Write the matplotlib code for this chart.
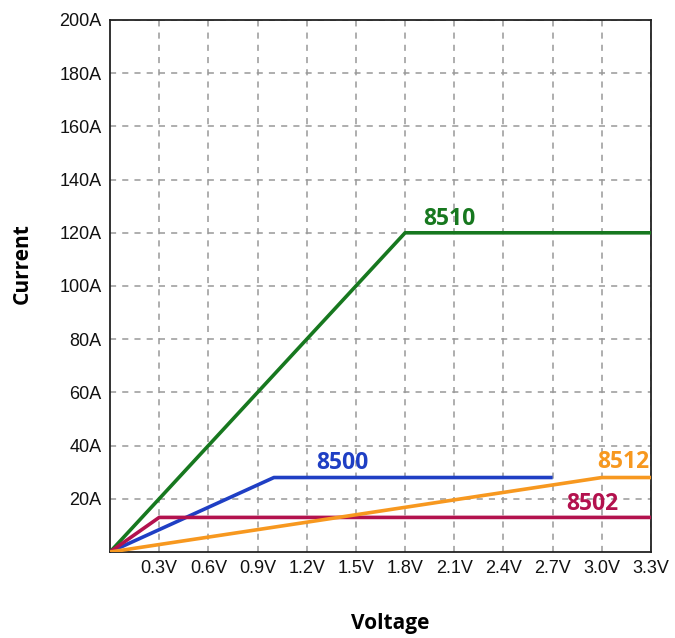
import matplotlib
matplotlib.use('Agg')
import matplotlib.pyplot as plt

# current-voltage envelopes of the models (V, A)
v_8510 = [0.0, 1.8, 3.3]
a_8510 = [0, 120, 120]
v_8500 = [0.0, 1.0, 2.7]
a_8500 = [0, 28, 28]
v_8502 = [0.0, 0.3, 3.3]
a_8502 = [0, 13, 13]
v_8512 = [0.0, 3.0, 3.3]
a_8512 = [0, 28, 28]

x_ticks = [0.3, 0.6, 0.9, 1.2, 1.5, 1.8, 2.1, 2.4, 2.7, 3.0, 3.3]
x_labels = ['0.3V', '0.6V', '0.9V', '1.2V', '1.5V', '1.8V', '2.1V', '2.4V', '2.7V', '3.0V', '3.3V']
y_ticks = [20, 40, 60, 80, 100, 120, 140, 160, 180, 200]
y_labels = ['20A', '40A', '60A', '80A', '100A', '120A', '140A', '160A', '180A', '200A']

green = '#17781f'
blue = '#1f3fc4'
red = '#b3124e'
orange = '#f7981f'

fig = plt.figure(figsize=(6.75, 6.38), dpi=100)
ax = fig.add_axes([110 / 675, 1 - 552 / 638, 541 / 675, 532 / 638])

ax.plot(v_8510, a_8510, color=green, lw=2.6, solid_capstyle='butt', zorder=3)
ax.plot(v_8500, a_8500, color=blue, lw=2.6, solid_capstyle='butt', zorder=3)
ax.plot(v_8502, a_8502, color=red, lw=2.6, solid_capstyle='butt', zorder=3)
ax.plot(v_8512, a_8512, color=orange, lw=2.6, solid_capstyle='butt', zorder=3)

lab = dict(family='Open Sans', fontweight='bold', fontsize=16.5)
ax.text(1.91, 120.5, '8510', color=green, ha='left', va='bottom', **lab)
ax.text(1.415, 29.0, '8500', color=blue, ha='center', va='bottom', **lab)
ax.text(3.13, 29.5, '8512', color=orange, ha='center', va='bottom', **lab)
ax.text(2.94, 13.5, '8502', color=red, ha='center', va='bottom', **lab)

ax.set_xlim(0, 3.3)
ax.set_ylim(0, 200)
ax.set_xticks(x_ticks)
ax.set_xticklabels(x_labels)
ax.set_yticks(y_ticks)
ax.set_yticklabels(y_labels)
ax.tick_params(length=0, pad=6, labelsize=13)
for t in ax.get_xticklabels() + ax.get_yticklabels():
    t.set_family('Liberation Sans')
    t.set_color('#111111')

ax.grid(True, color='#999999', lw=1.1, linestyle=(0, (4, 4)))
for s in ax.spines.values():
    s.set_color('#222222')
    s.set_linewidth(1.3)

fig.text(390 / 675, 1 - 623 / 638, 'Voltage', ha='center', va='center',
         family='Open Sans', fontweight='bold', fontsize=15)
fig.text(22 / 675, 1 - 264 / 638, 'Current', ha='center', va='center', rotation=90,
         family='Open Sans', fontweight='bold', fontsize=15)

fig.savefig('out.png', dpi=100)
